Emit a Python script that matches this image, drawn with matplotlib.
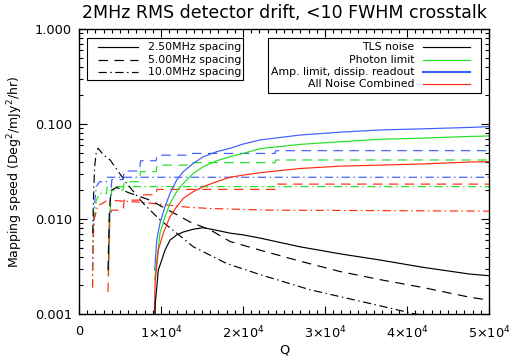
import matplotlib
matplotlib.use("Agg")
import matplotlib.pyplot as plt
from matplotlib.lines import Line2D
from matplotlib.patches import Rectangle
from matplotlib.ticker import LogLocator, FixedLocator, NullFormatter

# ---------------- data ----------------
# 2.50 MHz spacing (solid)
q_tls_25 = [9270, 9300, 9480, 9670, 10090, 10490, 11100, 11920, 12720, 13940, 15160,
            16790, 18420, 20040, 22070, 26950, 31830, 36710, 41950, 47680, 50000]
tls_25 = [0.0009, 0.0013, 0.0019, 0.0029, 0.0037, 0.0047, 0.0060, 0.0068, 0.0073, 0.0078,
          0.0081, 0.0076, 0.0071, 0.0068, 0.0063, 0.0051, 0.0043, 0.0037, 0.0031, 0.00263, 0.00253]
q_amp_25 = [9230, 9480, 9880, 10490, 11100, 11920, 12720, 13940, 15160, 16790, 18420,
            20040, 22070, 26950, 31830, 36710, 41950, 47680, 50000]
amp_25 = [0.0029, 0.0060, 0.0091, 0.0135, 0.0186, 0.0258, 0.0315, 0.0385, 0.0452, 0.0511,
          0.0555, 0.0616, 0.0679, 0.0765, 0.0820, 0.0865, 0.0890, 0.0920, 0.0938]
q_pho_25 = [9230, 9880, 10490, 11100, 11920, 12720, 13940, 15160, 16790, 18420, 20040,
            22070, 26950, 31830, 36710, 41950, 47680, 50000]
pho_25 = [0.0023, 0.0071, 0.0106, 0.0146, 0.0194, 0.0237, 0.0302, 0.0356, 0.0410, 0.0452,
          0.0490, 0.0550, 0.0610, 0.0650, 0.0690, 0.0710, 0.0740, 0.0748]
q_all_25 = [9200, 9270, 9670, 10280, 11100, 11920, 12720, 13940, 15160, 16790, 18420,
            20040, 22070, 26950, 31830, 36710, 41950, 47680, 50000]
all_25 = [0.0009, 0.0021, 0.0047, 0.0071, 0.0106, 0.0135, 0.0165, 0.0194, 0.0219, 0.0247,
          0.0275, 0.0290, 0.0307, 0.0340, 0.0360, 0.0369, 0.0380, 0.0398, 0.0401]

# 5.00 MHz spacing (dashed)
q_tls_50 = [3540, 3700, 3900, 4600, 6000, 8660, 10490, 13540, 15980, 18420, 22070,
            26950, 31830, 36710, 41950, 47680, 50000]
tls_50 = [0.0029, 0.012, 0.020, 0.0215, 0.019, 0.0158, 0.013, 0.0093, 0.0077, 0.0058,
          0.0047, 0.0036, 0.0028, 0.0023, 0.0019, 0.0015, 0.0014]
q_amp_50 = [3600, 3800, 4000, 5400, 5500, 7400, 7500, 9400, 9500, 13500, 13600, 23900, 24000, 50000]
amp_50 = [0.0031, 0.015, 0.026, 0.026, 0.032, 0.032, 0.041, 0.041, 0.047, 0.047, 0.049, 0.049,
          0.0524, 0.0524]
q_pho_50 = [3600, 3800, 4000, 5400, 5500, 7400, 7500, 9400, 9500, 13500, 13600, 23900, 24000, 50000]
pho_50 = [0.0025, 0.012, 0.0202, 0.0202, 0.0247, 0.0247, 0.0315, 0.0315, 0.0369, 0.0369,
          0.0392, 0.0392, 0.0418, 0.0418]
q_all_50 = [3540, 3700, 4000, 5400, 5500, 7400, 7500, 9400, 9500, 23900, 24000, 50000]
all_50 = [0.0017, 0.0106, 0.0124, 0.0124, 0.0158, 0.0158, 0.018, 0.018, 0.0205, 0.0205,
          0.0233, 0.0233]

# 10.0 MHz spacing (dash-dot)
q_tls_100 = [1680, 1750, 1900, 2100, 2320, 2600, 3000, 3780, 5820, 7840, 9880, 11920,
             13940, 18010, 22070, 28170, 36710, 41000, 45000]
tls_100 = [0.0071, 0.015, 0.035, 0.050, 0.0555, 0.052, 0.047, 0.042, 0.0237, 0.0146, 0.0098,
           0.0071, 0.0051, 0.0034, 0.0026, 0.0018, 0.00122, 0.0010, 0.0009]
q_amp_100 = [1650, 1800, 2110, 2520, 3350, 3450, 50000]
amp_100 = [0.0029, 0.012, 0.022, 0.0247, 0.0247, 0.0275, 0.0275]
q_pho_100 = [1650, 1750, 2110, 2520, 3350, 3450, 50000]
pho_100 = [0.0019, 0.008, 0.0158, 0.0186, 0.0186, 0.0219, 0.0219]
q_all_100 = [1650, 1700, 1830, 2320, 3540, 8010, 13290, 15980, 23290, 50000]
all_100 = [0.0019, 0.005, 0.0098, 0.0138, 0.0158, 0.0149, 0.0133, 0.0129, 0.0124, 0.0121]

spacing_labels = ["2.50MHz spacing", "5.00MHz spacing", "10.0MHz spacing"]
noise_labels = ["TLS noise", "Photon limit", "Amp. limit, dissip. readout", "All Noise Combined"]
title = "2MHz RMS detector drift, <10 FWHM crosstalk"
ytick_vals = [0.001, 0.01, 0.1, 1.0]
ytick_labels = ["0.001", "0.010", "0.100", "1.000"]
xtick_vals = [0, 10000, 20000, 30000, 40000, 50000]
xtick_labels = ["0", r"1$\times$10$^4$", r"2$\times$10$^4$", r"3$\times$10$^4$",
                r"4$\times$10$^4$", r"5$\times$10$^4$"]

# ---------------- style ----------------
C_TLS = "black"
C_PHO = "#22e022"
C_AMP = "#3c5cff"
C_ALL = "#ff2a10"
DASH = (0, (8, 5.5))
DASHDOT = (0, (7, 3, 1.2, 3))
LW = 0.85

W, H = 510, 358
fig = plt.figure(figsize=(W / 100, H / 100), dpi=100)
L, R, T, B = 79, 489, 29, 314
ax = fig.add_axes([L / W, 1 - B / H, (R - L) / W, (B - T) / H])


def fx(px):
    return px / W


def fy(py):
    return 1 - py / H


series = [
    (q_amp_100, amp_100, C_AMP, DASHDOT), (q_pho_100, pho_100, C_PHO, DASHDOT),
    (q_all_100, all_100, C_ALL, DASHDOT), (q_tls_100, tls_100, C_TLS, DASHDOT),
    (q_amp_50, amp_50, C_AMP, DASH), (q_pho_50, pho_50, C_PHO, DASH),
    (q_all_50, all_50, C_ALL, DASH), (q_tls_50, tls_50, C_TLS, DASH),
    (q_amp_25, amp_25, C_AMP, "-"), (q_pho_25, pho_25, C_PHO, "-"),
    (q_all_25, all_25, C_ALL, "-"), (q_tls_25, tls_25, C_TLS, "-"),
]
for q, v, c, ls in series:
    ax.plot(q, v, color=c, linestyle=ls, lw=LW)

ax.set_yscale("log")
ax.set_xlim(0, 50000)
ax.set_ylim(0.001, 1.0)
ax.yaxis.set_major_locator(FixedLocator(ytick_vals))
ax.set_yticklabels(ytick_labels)
ax.yaxis.set_minor_locator(LogLocator(base=10, subs=range(2, 10)))
ax.yaxis.set_minor_formatter(NullFormatter())
ax.xaxis.set_major_locator(FixedLocator(xtick_vals))
ax.set_xticklabels(xtick_labels)
ax.xaxis.set_minor_locator(FixedLocator(list(range(0, 50001, 1000))))
ax.tick_params(which="both", direction="in", top=True, right=True, labelsize=9.3, width=0.8)
ax.tick_params(which="major", length=6)
ax.tick_params(which="minor", length=3)
ax.tick_params(axis="y", pad=5)
ax.tick_params(axis="x", pad=8)
for s in ax.spines.values():
    s.set_linewidth(1.0)

ax.set_xlabel("Q", fontsize=9.3, labelpad=1)
ax.set_ylabel("Mapping speed (Deg$^2$/mJy$^2$/hr)", fontsize=9, va="center")
ax.yaxis.set_label_coords((15 - L) / (R - L), 0.5)
fig.text(0.5 * (fx(L) + fx(R)), fy(13), title, ha="center", va="center", fontsize=12.5)

# ---------------- legends (drawn by hand, IDL style) ----------------
fig.add_artist(Rectangle((fx(86.5), fy(80)), fx(243.3) - fx(86.5), fy(38.3) - fy(80),
                         transform=fig.transFigure, fill=False, edgecolor="black", lw=0.8))
for i, (lab, ls) in enumerate(zip(spacing_labels, ["-", DASH, DASHDOT])):
    yy = 47.3 + 12.4 * i
    fig.add_artist(Line2D([fx(98), fx(138)], [fy(yy), fy(yy)], color="black", lw=LW,
                          linestyle=ls, transform=fig.transFigure))
    fig.text(fx(148.5), fy(yy), lab, ha="left", va="center", fontsize=7.8)

fig.add_artist(Rectangle((fx(268.3), fy(93.3)), fx(481) - fx(268.3), fy(38.3) - fy(93.3),
                         transform=fig.transFigure, fill=False, edgecolor="black", lw=0.8))
for i, (lab, c) in enumerate(zip(noise_labels, [C_TLS, C_PHO, C_AMP, C_ALL])):
    yy = 47.3 + 12.3 * i
    fig.add_artist(Line2D([fx(423.3), fx(470)], [fy(yy), fy(yy)], color=c,
                          lw=1.5 if c == C_AMP else LW, transform=fig.transFigure))
    fig.text(fx(414.5), fy(yy), lab, ha="right", va="center", fontsize=7.8)

fig.savefig("out.png", dpi=100)
